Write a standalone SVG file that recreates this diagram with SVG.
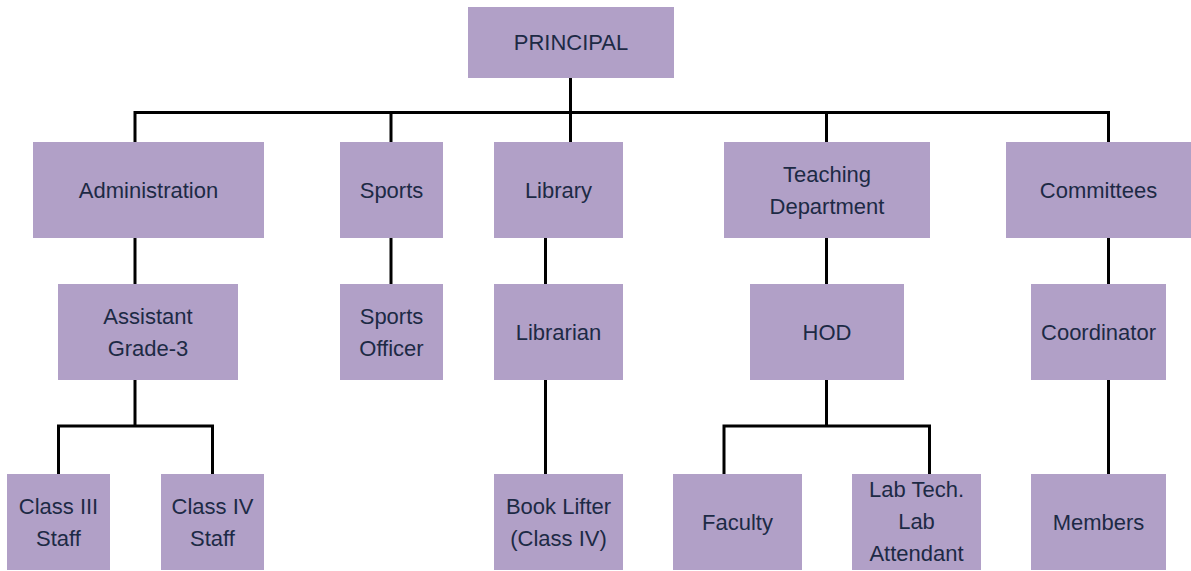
<svg xmlns="http://www.w3.org/2000/svg" width="1191" height="571" viewBox="0 0 1191 571">
<style>
.box{fill:#B1A0C7}
.t{font-family:"Liberation Sans",Arial,sans-serif;font-size:22px;fill:#1D2A45;text-anchor:middle}
.c{fill:none;stroke:#000;stroke-width:3;stroke-linejoin:miter}
</style>
<rect width="1191" height="571" fill="#fff"/>
<g id="connectors" class="c">
<path d="M570.5,78 V142"/>
<path d="M135,142 V112.5 H1108.5 V142"/>
<path d="M391,112.5 V142"/>
<path d="M826.5,112.5 V142"/>
<path d="M135,238 V284"/>
<path d="M391,238 V284"/>
<path d="M545.5,238 V284"/>
<path d="M826.5,238 V284"/>
<path d="M1108.5,238 V284"/>
<path d="M135,380 V426"/>
<path d="M58.5,474 V426 H212.5 V474"/>
<path d="M545.5,380 V474"/>
<path d="M826.5,380 V426"/>
<path d="M724,474 V426 H929.5 V474"/>
<path d="M1108.5,380 V474"/>
</g>
<g id="principal"><rect class="box" x="468" y="7" width="206" height="71"/><text class="t" x="571" y="50">PRINCIPAL</text></g>
<g id="administration"><rect class="box" x="33" y="142" width="231" height="96"/><text class="t" x="148.5" y="198">Administration</text></g>
<g id="sports"><rect class="box" x="340" y="142" width="103" height="96"/><text class="t" x="391.5" y="198">Sports</text></g>
<g id="library"><rect class="box" x="494" y="142" width="129" height="96"/><text class="t" x="558.5" y="198">Library</text></g>
<g id="teaching"><rect class="box" x="724" y="142" width="206" height="96"/><text class="t" x="827" y="182">Teaching</text><text class="t" x="827" y="214">Department</text></g>
<g id="committees"><rect class="box" x="1006" y="142" width="185" height="96"/><text class="t" x="1098.5" y="198">Committees</text></g>
<g id="assistant"><rect class="box" x="58" y="284" width="180" height="96"/><text class="t" x="148" y="324">Assistant</text><text class="t" x="148" y="356">Grade-3</text></g>
<g id="sports-officer"><rect class="box" x="340" y="284" width="103" height="96"/><text class="t" x="391.5" y="324">Sports</text><text class="t" x="391.5" y="356">Officer</text></g>
<g id="librarian"><rect class="box" x="494" y="284" width="129" height="96"/><text class="t" x="558.5" y="340">Librarian</text></g>
<g id="hod"><rect class="box" x="750" y="284" width="154" height="96"/><text class="t" x="827" y="340">HOD</text></g>
<g id="coordinator"><rect class="box" x="1031" y="284" width="135" height="96"/><text class="t" x="1098.5" y="340">Coordinator</text></g>
<g id="class3"><rect class="box" x="7" y="474" width="103" height="96"/><text class="t" x="58.5" y="514">Class III</text><text class="t" x="58.5" y="546">Staff</text></g>
<g id="class4"><rect class="box" x="161" y="474" width="103" height="96"/><text class="t" x="212.5" y="514">Class IV</text><text class="t" x="212.5" y="546">Staff</text></g>
<g id="book-lifter"><rect class="box" x="494" y="474" width="129" height="96"/><text class="t" x="558.5" y="514">Book Lifter</text><text class="t" x="558.5" y="546">(Class IV)</text></g>
<g id="faculty"><rect class="box" x="673" y="474" width="129" height="96"/><text class="t" x="737.5" y="530">Faculty</text></g>
<g id="lab"><rect class="box" x="852" y="474" width="129" height="96"/><text class="t" x="916.5" y="497">Lab Tech.</text><text class="t" x="916.5" y="529">Lab</text><text class="t" x="916.5" y="561">Attendant</text></g>
<g id="members"><rect class="box" x="1031" y="474" width="135" height="96"/><text class="t" x="1098.5" y="530">Members</text></g>
</svg>
